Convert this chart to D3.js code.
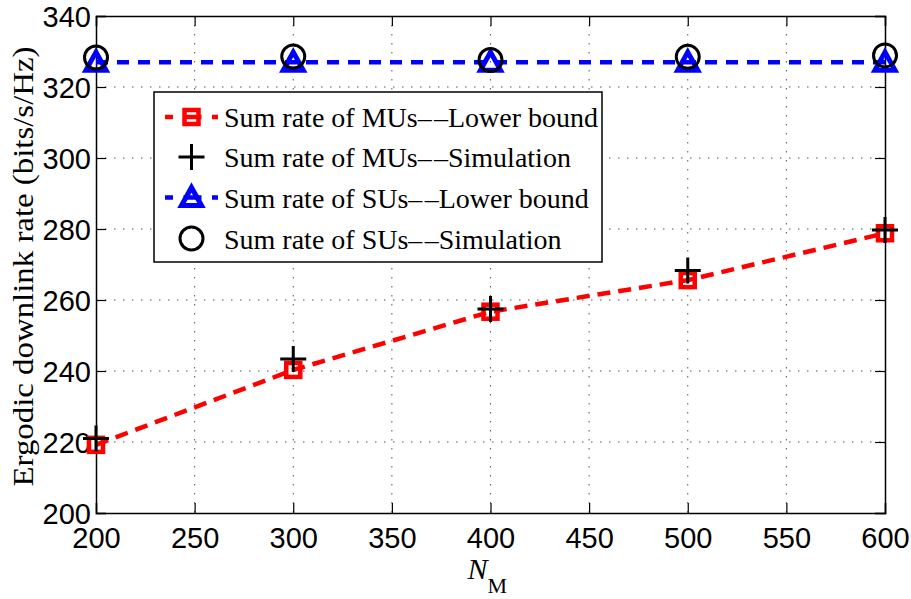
<!DOCTYPE html>
<html>
<head>
<meta charset="utf-8">
<script src="https://cdn.jsdelivr.net/npm/d3@7/dist/d3.min.js"></script>
<style>
  body { margin: 0; background: #fff; }
  svg { display: block; }
</style>
</head>
<body>
<div id="chart"></div>
<script>
// values
const nM = [200, 300, 400, 500, 600];
const muLower = [219.2, 240.3, 256.7, 265.6, 278.8];
const muSim = [221.0, 243.4, 257.5, 268.3, 279.7];
const suLower = [327.0, 327.0, 327.0, 327.0, 327.0];
const suSim = [328.3, 328.6, 327.6, 328.5, 328.9];

const xTicks = [200, 250, 300, 350, 400, 450, 500, 550, 600];
const yTicks = [200, 220, 240, 260, 280, 300, 320, 340];

const legendLabels = [
    "Sum rate of MUs\u2013\u200a\u2013Lower bound",
    "Sum rate of MUs\u2013\u200a\u2013Simulation",
    "Sum rate of SUs\u2013\u200a\u2013Lower bound",
    "Sum rate of SUs\u2013\u200a\u2013Simulation"
];

const svgWidth = 911;
const svgHeight = 599;
const margin = { top: 16, right: 26, bottom: 86, left: 96 };
const width = svgWidth - margin.left - margin.right;
const height = svgHeight - margin.top - margin.bottom;

const RED = "#ff0000";
const BLUE = "#0000ff";
const serif = "'Liberation Serif', 'Times New Roman', serif";
const sans = "'Liberation Sans', Arial, sans-serif";

const svg = d3.select("#chart")
    .append("svg")
    .attr("width", svgWidth)
    .attr("height", svgHeight);

const g = svg.append("g")
    .attr("transform", `translate(${margin.left},${margin.top})`);

const x = d3.scaleLinear().domain([200, 600]).range([0, width]);
const y = d3.scaleLinear().domain([200, 340]).range([height, 0]);

// dotted grid
g.append("g")
    .selectAll("line.vg")
    .data(xTicks.slice(1, -1))
    .join("line")
    .attr("x1", d => x(d)).attr("x2", d => x(d))
    .attr("y1", 0).attr("y2", height)
    .attr("stroke", "#555")
    .attr("stroke-width", 1)
    .attr("stroke-dasharray", "1.5,7.5");

g.append("g")
    .selectAll("line.hg")
    .data(yTicks.slice(1, -1))
    .join("line")
    .attr("y1", d => y(d)).attr("y2", d => y(d))
    .attr("x1", 0).attr("x2", width)
    .attr("stroke", "#555")
    .attr("stroke-width", 1)
    .attr("stroke-dasharray", "1.5,7.5");

// axes, ticks pointing inward on all four sides
const tickLen = 10;
const axisBottom = g.append("g")
    .attr("transform", `translate(0,${height})`)
    .call(d3.axisBottom(x).tickValues(xTicks).tickSize(-tickLen).tickPadding(14));
const axisTop = g.append("g")
    .call(d3.axisTop(x).tickValues(xTicks).tickSize(-tickLen).tickFormat(""));
const axisLeft = g.append("g")
    .call(d3.axisLeft(y).tickValues(yTicks).tickSize(-tickLen).tickPadding(5));
const axisRight = g.append("g")
    .attr("transform", `translate(${width},0)`)
    .call(d3.axisRight(y).tickValues(yTicks).tickSize(-tickLen).tickFormat(""));

[axisBottom, axisTop, axisLeft, axisRight].forEach(a => {
    a.select(".domain").attr("stroke", "#000").attr("stroke-width", 1.5);
    a.selectAll(".tick line").attr("stroke", "#000").attr("stroke-width", 1.2);
    a.selectAll("text")
        .attr("fill", "#000")
        .style("font-family", sans)
        .style("font-size", "29px");
});
axisLeft.selectAll("text").attr("dy", "0.36em");

// lines
const line = d3.line()
    .x((d, i) => x(nM[i]))
    .y(d => y(d));

g.append("path")
    .datum(muLower)
    .attr("d", line)
    .attr("fill", "none")
    .attr("stroke", RED)
    .attr("stroke-width", 4.5)
    .attr("stroke-dasharray", "13,8");

g.append("path")
    .datum(suLower)
    .attr("d", line)
    .attr("fill", "none")
    .attr("stroke", BLUE)
    .attr("stroke-width", 4.5)
    .attr("stroke-dasharray", "12,9");

// marker painters
function square(sel) {
    sel.append("rect")
        .attr("x", -7).attr("y", -7)
        .attr("width", 14).attr("height", 14)
        .attr("fill", "none")
        .attr("stroke", RED)
        .attr("stroke-width", 4.5);
}
function plus(sel) {
    sel.append("path")
        .attr("d", "M-13,0H13M0,-13V13")
        .attr("fill", "none")
        .attr("stroke", "#000")
        .attr("stroke-width", 3);
}
function triangle(sel) {
    sel.append("path")
        .attr("d", "M0,-10L10,8L-10,8Z")
        .attr("fill", "none")
        .attr("stroke", BLUE)
        .attr("stroke-width", 5)
        .attr("stroke-linejoin", "miter");
}
function circle(sel) {
    sel.append("circle")
        .attr("r", 11.5)
        .attr("fill", "none")
        .attr("stroke", "#000")
        .attr("stroke-width", 3);
}

function drawMarkers(values, painter) {
    g.append("g")
        .selectAll("g")
        .data(values)
        .join("g")
        .attr("transform", (d, i) => `translate(${x(nM[i])},${y(d)})`)
        .each(function () { painter(d3.select(this)); });
}

drawMarkers(muLower, square);
drawMarkers(muSim, plus);
drawMarkers(suLower, triangle);
drawMarkers(suSim, circle);

// axis labels
g.append("text")
    .attr("transform", `translate(${-63},${height / 2 + 2}) rotate(-90)`)
    .attr("text-anchor", "middle")
    .attr("textLength", 440)
    .attr("lengthAdjust", "spacingAndGlyphs")
    .style("font-family", serif)
    .style("font-size", "30px")
    .text("Ergodic downlink rate (bits/s/Hz)");

const xl = g.append("text")
    .attr("x", x(400) - 23)
    .attr("y", height + 66)
    .style("font-family", serif)
    .style("font-size", "30px");
xl.append("tspan").style("font-style", "italic").text("N");
xl.append("tspan")
    .attr("dy", 14)
    .style("font-size", "22px")
    .text("M");

// legend
const legend = svg.append("g").attr("transform", "translate(154,92)");
legend.append("rect")
    .attr("width", 448).attr("height", 170)
    .attr("fill", "#fff")
    .attr("stroke", "#000")
    .attr("stroke-width", 1.5);

const rowY = [25, 65, 105.5, 146.5];
const legendPainters = [square, plus, triangle, circle];
const legendLines = [RED, null, BLUE, null];

legendLabels.forEach((label, i) => {
    const row = legend.append("g").attr("transform", `translate(0,${rowY[i]})`);
    if (legendLines[i]) {
        row.append("line")
            .attr("x1", 11).attr("x2", 64)
            .attr("stroke", legendLines[i])
            .attr("stroke-width", 4.5)
            .attr("stroke-dasharray", "8,10.5,18,10.5,8");
    }
    const m = row.append("g").attr("transform", "translate(37.5,0)");
    legendPainters[i](m);
    row.append("text")
        .attr("x", 70)
        .attr("y", 10)
        .style("font-family", serif)
        .style("font-size", "28px")
        .text(label);
});
</script>
</body>
</html>
